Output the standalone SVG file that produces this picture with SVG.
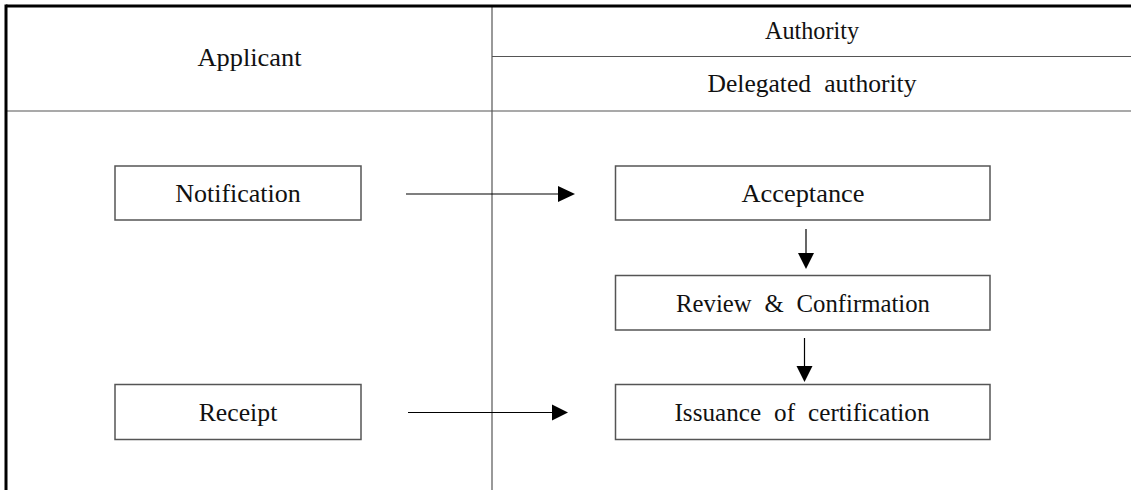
<svg xmlns="http://www.w3.org/2000/svg" width="1131" height="490" viewBox="0 0 1131 490">
  <style>
    .grid { stroke: #555; stroke-width: 1.2; fill: none; }
    .frame { stroke: #000; stroke-width: 3; fill: none; }
    .box { fill: #fff; stroke: #555; stroke-width: 1.5; }
    .lbl { font-family: "Liberation Serif", "Times New Roman", serif; font-size: 26px; fill: #111; text-anchor: middle; }
    .ws { word-spacing: 7px; }
    .conn { stroke: #000; stroke-width: 1.2; fill: none; }
    .head { fill: #000; }
  </style>
  <rect width="1131" height="490" fill="#fff"/>
  <g id="table">
    <line class="grid" x1="492" y1="6" x2="492" y2="490"/>
    <line class="grid" x1="6" y1="111" x2="1131" y2="111"/>
    <line class="grid" x1="492" y1="56.5" x2="1131" y2="56.5"/>
    <line class="frame" x1="6" y1="6" x2="1131" y2="6"/>
    <line class="frame" x1="6" y1="4.5" x2="6" y2="490"/>
    <text class="lbl" x="249.5" y="66" textLength="104" lengthAdjust="spacingAndGlyphs">Applicant</text>
    <text class="lbl" x="812" y="39" textLength="94" lengthAdjust="spacingAndGlyphs">Authority</text>
    <text class="lbl ws" x="812" y="92" textLength="209" lengthAdjust="spacingAndGlyphs">Delegated authority</text>
  </g>
  <g id="notification">
    <rect class="box" x="115" y="166" width="246" height="54"/>
    <text class="lbl" x="238" y="202" textLength="125.7" lengthAdjust="spacingAndGlyphs">Notification</text>
  </g>
  <g id="acceptance">
    <rect class="box" x="615.5" y="166" width="374.5" height="54"/>
    <text class="lbl" x="803" y="202" textLength="123" lengthAdjust="spacingAndGlyphs">Acceptance</text>
  </g>
  <g id="review">
    <rect class="box" x="615.5" y="275.5" width="374.5" height="54.5"/>
    <text class="lbl ws" x="803" y="311.5" textLength="254" lengthAdjust="spacingAndGlyphs">Review &amp; Confirmation</text>
  </g>
  <g id="receipt">
    <rect class="box" x="115" y="384.5" width="246" height="55"/>
    <text class="lbl" x="238" y="421" textLength="78.6" lengthAdjust="spacingAndGlyphs">Receipt</text>
  </g>
  <g id="issuance">
    <rect class="box" x="615.5" y="384.5" width="374.5" height="55"/>
    <text class="lbl ws" x="802" y="421" textLength="255" lengthAdjust="spacingAndGlyphs">Issuance of certification</text>
  </g>
  <g id="connectors">
    <line class="conn" x1="406" y1="194" x2="560" y2="194"/>
    <polygon class="head" points="558,186 575,194 558,202"/>
    <line class="conn" x1="408" y1="412.5" x2="554" y2="412.5"/>
    <polygon class="head" points="552,404.5 568,412.5 552,420.5"/>
    <line class="conn" x1="806" y1="229" x2="806" y2="255"/>
    <polygon class="head" points="798,253 814,253 806,269"/>
    <line class="conn" x1="804.5" y1="338" x2="804.5" y2="368"/>
    <polygon class="head" points="796.5,366 812.5,366 804.5,382"/>
  </g>
</svg>
